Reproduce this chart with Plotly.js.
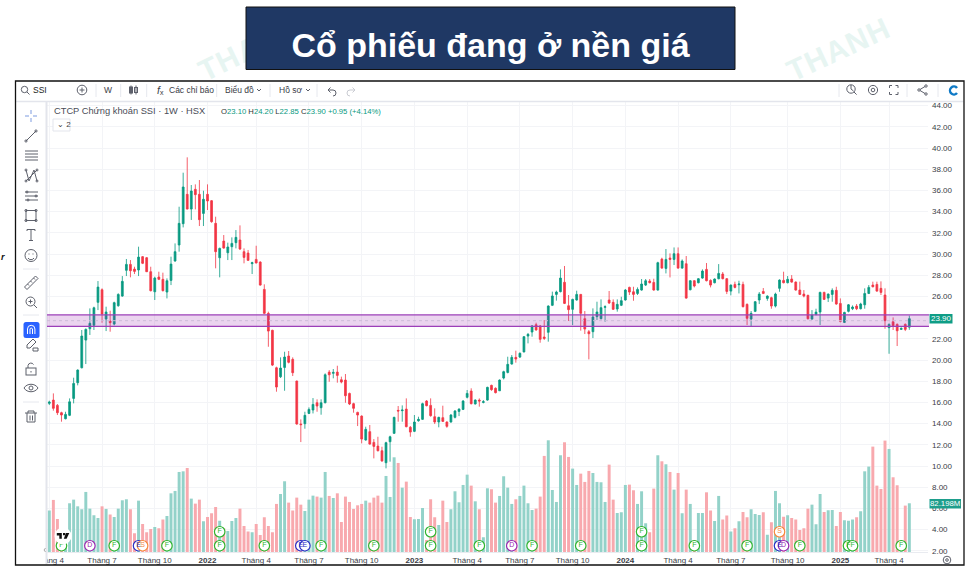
<!DOCTYPE html>
<html><head><meta charset="utf-8">
<script src="https://cdn.plot.ly/plotly-3.0.1.min.js"></script>
<style>
html,body{margin:0;padding:0;background:#fff;width:974px;height:580px;overflow:hidden}
#wm,#chart,#ov{position:absolute;left:0;top:0;width:974px;height:580px}
#ov{pointer-events:none}
#ov .i{fill:none;stroke:#5d606b;stroke-width:1}
</style></head><body>
<svg id="wm" width="974" height="580">
  <g font-family="Liberation Sans" font-weight="700" font-size="30" fill="#e7f5f2">
    <text transform="translate(793,82) rotate(-25)" letter-spacing="1">THANH</text>
    <text transform="translate(205,82) rotate(-26)" letter-spacing="1">THANH</text>
  </g>
</svg>
<div id="chart"></div>
<svg id="ov" width="974" height="580">
  <!-- top toolbar icons -->
  <g class="i">
    <circle cx="24.5" cy="89.5" r="3.2"/><path d="M27 92l2.5 2.5"/>
    <circle cx="82" cy="90" r="4.8"/><path d="M79.5 90h5M82 87.5v5"/>
    <path d="M131 85.5v9M136 85.5v9"/><rect x="129.5" y="87" width="3" height="6" fill="#5d606b"/><rect x="134.5" y="87.5" width="3" height="5"/>
    <path d="M257 89l2 2 2-2M306 89l2 2 2-2"/>
    <path d="M328 90h5a3 3 0 0 1 0 6M328 90l2.5-2.5M328 90l2.5 2.5"/>
    <path d="M355 90h-5a3 3 0 0 0 0 6M355 90l-2.5-2.5M355 90l-2.5 2.5" stroke="#c9cbd2"/>
    <circle cx="851" cy="89" r="4.2"/><path d="M854 92l2.6 2.6M851 85v4l2.5 2"/>
    <circle cx="873" cy="90" r="1.8"/><circle cx="873" cy="90" r="4.6"/>
    <path d="M890 88v-2.5h2.5M896 85.5h2.5v2.5M898.5 92v2.5H896M892.5 94.500H890V92" transform="translate(-0.500,0)"/>
    <circle cx="919" cy="90" r="1.2"/><circle cx="926" cy="86" r="1.2"/><circle cx="926" cy="94" r="1.2"/><path d="M920 89.500l5-3M920 90.500l5 3"/>
  </g>
  <path d="M958 87.200a5.200 5.200 0 1 0 0 6.600l-2-1.600a2.700 2.700 0 1 1 0-3.400z" fill="#0f7ac6"/>
  <!-- left toolbar icons -->
  <g class="i">
    <path d="M31 110v4M31 118v4M25 116h4M33 116h4" stroke="#7c9be0"/>
    <path d="M26 141l10-10"/><circle cx="26" cy="141" r="1.100"/><circle cx="36" cy="131" r="1.100"/>
    <path d="M25 151h13M25 154h13M25 157h13M25 160h13"/>
    <path d="M26 170l3 11 5-11 3 11M26 181l11-11"/><circle cx="26" cy="170" r="1"/><circle cx="37" cy="170" r="1"/><circle cx="26" cy="181" r="1"/><circle cx="37" cy="181" r="1"/>
    <path d="M25 192h13M25 196h13M25 200h13"/><circle cx="27" cy="192" r="1"/><circle cx="36" cy="196" r="1"/><circle cx="28" cy="200" r="1"/>
    <rect x="26" y="210.500" width="10" height="10"/><circle cx="26" cy="210.500" r="1.100"/><circle cx="36" cy="210.500" r="1.100"/><circle cx="26" cy="220.500" r="1.100"/><circle cx="36" cy="220.500" r="1.100"/>
    <path d="M27 231v-1.500h8v1.500M31 229.500v11M29 240.500h4"/>
    <circle cx="31" cy="255.500" r="6"/><path d="M28 258a3.500 3.500 0 0 0 6 0"/><path d="M29 253.500v1M33 253.500v1"/>
    <path d="M26 288l11-11 2.500 2.500-11 11zM29 285l1.500 1.500M32 282l1.500 1.500M35 279l1.500 1.500" transform="translate(-1.500,-1)"/>
    <circle cx="30.500" cy="301.500" r="4.500"/><path d="M34 305l3 3M28.500 301.500h4M30.500 299.500v4"/>
    <path d="M27 345l6-6 3 3-6 6h-3zM33 351h5v-3h-5z"/>
    <rect x="26" y="368" width="10" height="7"/><path d="M28 368v-2.500a3 3 0 0 1 5.500-1"/><path d="M31 371v1.500"/>
    <path d="M24 388c3-5 11-5 14 0c-3 5-11 5-14 0z"/><circle cx="31" cy="388" r="2"/>
    <path d="M25 413h12M28 413v-2h6v2M27 413v9h8v-9M30 415.500v5M32.500 415.500v5"/>
  </g>
  <rect x="23.500" y="322" width="16" height="16" rx="2.500" fill="#2962ff"/>
  <path d="M27.500 334v-5a3.700 3.700 0 0 1 7.400 0v5M30 334v-5a1.300 1.300 0 0 1 2.500 0v5" fill="none" stroke="#fff" stroke-width="1"/>
  <path d="M45.500 548l-1.500 2 1.500 2" fill="none" stroke="#aaa"/>
  <circle cx="947" cy="560" r="3.800" fill="none" stroke="#5d606b"/><circle cx="947" cy="560" r="1.300" fill="none" stroke="#5d606b"/>
  <!-- TradingView mark -->
  <circle cx="63" cy="536" r="8.500" fill="#fff"/>
  <path d="M56.800 533h5v5.800h-2.500v-3.300h-2.500zM63 533h2.300l-0.200 2.200h-2.100zM66 533h3.300l-2.700 5.800h-2.800z" fill="#111"/>
</svg>
<script>
const open_ = [15.91,16.22,15.72,15.03,14.46,14.78,16.38,17.86,19.27,21.88,
22.95,23.27,25.44,26.63,23.86,23.68,23.39,25.12,26.03,28.46,
29.02,28.58,28.49,29.75,29.65,28.33,26.44,27.83,27.61,26.41,
27.51,29.34,30.85,32.86,35.63,34.24,36.10,35.63,33.83,35.63,
35.03,32.89,29.65,31.22,30.12,30.69,31.07,31.32,30.22,30.09,
29.09,29.49,29.24,26.66,24.40,22.80,19.27,18.42,19.30,20.37,
20.06,18.02,13.96,13.99,14.96,15.28,15.97,15.50,15.97,18.86,
18.74,18.86,18.14,18.11,16.85,15.88,15.06,14.71,12.45,13.24,
12.23,11.88,11.44,10.31,12.29,13.08,15.25,15.22,15.37,13.65,
13.27,14.27,14.40,16.13,15.72,14.65,14.15,14.56,14.15,14.15,
14.59,15.15,15.34,16.48,17.07,15.85,16.22,16.00,16.22,17.61,
17.33,17.10,18.30,18.83,19.62,20.25,20.28,20.76,22.26,22.64,
23.33,23.21,22.17,22.61,25.16,26.19,26.45,27.33,25.12,24.78,
25.66,26.19,23.90,22.67,22.67,24.09,23.90,24.97,25.66,25.44,
24.81,25.16,25.66,26.85,26.44,26.28,26.60,27.07,27.45,27.32,
26.60,29.52,28.64,29.62,29.49,30.03,28.67,29.08,26.63,27.48,
27.29,27.73,28.55,27.51,27.29,27.67,28.11,27.67,26.50,27.13,
27.10,27.13,25.25,23.86,24.59,25.66,26.47,25.81,25.88,25.09,
26.76,27.51,27.29,27.64,27.35,26.60,26.22,26.10,23.86,24.30,
24.52,26.38,25.84,26.19,26.57,25.34,23.55,24.59,24.84,25.09,
24.84,25.21,26.28,27.07,27.13,26.76,26.13,23.05,23.61,23.36,
22.89,23.36,23.10];
const high = [16.16,16.85,15.85,15.12,15.12,16.38,18.33,19.12,22.83,22.98,
24.87,25.03,27.45,26.76,25.03,24.65,25.50,26.29,27.92,29.53,
29.43,28.80,30.69,29.81,29.71,28.80,27.86,28.33,28.24,27.70,
29.75,31.00,34.46,37.67,39.12,36.51,36.57,36.98,35.97,36.57,
35.09,33.52,30.60,31.79,31.07,31.57,32.26,32.70,30.53,30.38,
29.27,30.78,29.31,27.14,24.56,22.86,19.37,20.25,20.78,20.85,
20.25,18.05,14.40,15.12,15.53,16.41,16.29,16.29,18.74,19.05,
19.15,19.46,18.43,18.68,16.92,15.97,15.12,14.78,13.71,13.87,
12.54,12.76,11.82,12.29,12.86,14.65,15.66,15.72,16.38,13.77,
14.81,14.65,15.97,16.22,16.38,15.44,14.65,15.69,14.21,14.90,
15.28,15.44,16.22,17.17,17.33,16.29,16.38,16.22,17.48,17.67,
17.42,18.17,18.99,20.31,20.47,20.88,20.72,22.26,22.55,23.30,
23.52,23.30,23.77,25.16,26.45,26.54,28.55,28.87,26.13,25.78,
26.54,26.23,24.62,22.83,24.87,25.50,25.72,25.16,26.51,25.72,
25.72,25.97,26.70,26.92,26.91,26.85,27.64,27.64,27.64,27.67,
29.27,29.65,30.47,30.06,30.62,30.62,29.49,29.81,27.54,27.54,
27.73,28.55,29.15,27.61,27.70,29.05,28.30,27.73,27.13,27.39,
27.48,27.39,25.34,24.62,25.56,26.41,26.79,26.10,25.97,26.35,
27.61,28.33,27.92,28.01,27.42,27.39,26.60,26.16,24.71,24.84,
26.44,26.44,26.28,26.76,26.91,25.81,24.55,25.28,25.15,25.28,
25.40,26.76,27.07,27.39,27.39,27.42,26.76,23.45,24.02,23.45,
23.08,23.45,24.20];
const low = [15.75,15.22,14.81,14.18,14.40,14.71,15.91,17.61,19.21,19.62,
22.36,22.83,24.71,23.52,22.73,22.67,23.27,25.03,25.97,27.92,
27.80,28.11,27.92,29.05,28.30,26.47,25.66,27.54,26.47,25.81,
27.07,29.27,30.22,32.51,34.21,33.21,34.21,32.64,32.64,34.15,
32.95,28.65,27.80,30.50,29.43,29.43,30.53,30.38,29.12,29.34,
28.11,29.12,27.01,24.34,21.25,19.43,17.01,18.30,17.10,19.68,
18.49,13.90,12.26,13.52,14.90,14.96,15.12,14.84,15.91,17.95,
18.27,17.86,17.80,15.97,15.75,15.03,13.77,12.14,12.39,12.01,
10.72,11.38,10.41,9.78,10.41,13.02,14.18,14.18,13.65,12.76,
13.20,14.18,14.34,15.63,14.65,13.96,13.65,14.15,13.61,14.09,
14.49,14.71,15.28,16.38,15.81,15.81,15.60,15.91,16.16,17.10,
16.85,17.07,18.17,18.74,19.56,19.75,20.19,20.72,21.57,22.20,
22.77,21.63,21.89,21.73,25.09,25.60,26.38,25.28,23.68,23.30,
25.60,22.77,22.45,20.06,22.07,23.77,23.83,23.61,25.28,24.72,
24.56,25.09,25.60,26.13,25.59,26.13,26.54,26.98,27.23,26.54,
26.54,28.61,28.17,27.79,28.96,28.61,28.61,25.78,26.57,26.85,
27.23,27.67,27.42,26.85,27.23,27.61,27.61,26.22,26.10,26.76,
26.28,24.96,23.30,23.20,24.52,25.28,26.22,25.59,24.84,24.96,
26.44,27.23,27.23,27.29,26.54,26.13,25.91,23.83,23.80,24.21,
23.30,25.66,25.47,25.50,25.21,23.55,23.49,24.49,24.71,24.71,
24.77,24.84,26.22,26.85,26.44,26.13,22.95,20.59,22.83,21.32,
22.83,22.73,22.85];
const close_ = [16.03,15.44,15.03,14.81,14.87,16.06,17.79,19.05,22.26,22.89,
23.46,24.93,26.88,24.34,24.53,23.52,25.41,26.19,27.42,29.02,
28.42,28.36,29.71,29.12,28.33,26.54,27.73,27.61,26.54,27.48,
29.05,30.22,32.89,36.32,34.24,35.94,35.60,33.24,35.16,35.00,
33.05,30.22,30.53,30.56,30.66,31.00,31.57,30.47,29.68,29.40,
29.18,29.15,27.07,24.40,22.73,19.52,17.45,19.24,20.28,19.78,
18.80,13.96,13.90,14.78,15.34,15.81,15.66,15.97,18.61,18.61,
18.83,18.55,17.92,16.63,15.85,15.44,14.81,12.54,13.46,12.07,
11.85,11.44,10.47,12.20,12.76,14.59,15.19,15.28,13.71,13.20,
14.15,14.40,15.88,15.69,14.75,14.15,14.59,14.21,13.74,14.81,
15.19,15.37,16.13,16.85,15.88,16.22,16.13,16.07,17.42,17.20,
16.92,18.11,18.90,19.59,20.25,20.09,20.63,22.20,22.42,23.21,
22.83,21.95,22.04,25.09,26.04,26.41,27.73,25.34,24.75,25.72,
26.19,24.40,22.92,22.48,24.06,24.53,24.94,25.03,25.38,24.78,
25.25,25.60,26.60,26.41,26.19,26.66,27.17,27.48,27.29,26.60,
29.18,28.67,29.49,29.49,30.03,28.67,29.34,25.84,27.48,26.98,
27.67,28.39,27.48,27.07,27.64,28.17,27.67,26.47,27.07,26.85,
27.17,25.03,23.93,24.40,25.50,26.22,26.28,26.03,25.09,26.22,
27.54,27.29,27.61,27.35,26.60,26.19,26.03,23.89,24.24,24.52,
26.38,25.72,26.22,26.57,25.28,23.64,24.49,25.21,25.00,24.84,
25.28,26.28,26.85,26.91,26.50,26.38,23.71,23.36,23.23,22.76,
22.98,22.89,23.90];
const volumeM = [69.9,87.8,55.9,31.9,29.1,82.2,88.3,77.1,72.1,101.2,
73.2,62.0,57.6,77.1,72.7,63.2,59.3,73.2,87.2,88.9,
72.1,31.9,86.6,47.5,33.5,39.1,42.5,40.2,54.8,60.9,
98.9,102.9,134.7,135.8,141.4,90.0,81.6,88.3,52.0,59.3,
65.4,76.0,53.1,40.2,35.8,52.5,57.6,73.2,44.2,34.7,
33.5,47.5,29.1,58.7,44.2,33.5,81.1,97.8,119.1,83.3,
69.9,91.7,79.9,69.3,88.3,95.0,93.4,91.7,134.7,94.5,
91.1,98.9,50.9,93.4,84.4,72.7,78.8,81.1,86.6,83.3,
91.7,95.0,83.3,128.0,92.8,159.3,149.8,108.4,118.5,59.3,
55.3,55.9,74.3,20.7,88.9,58.7,45.8,86.6,50.9,72.1,
102.3,83.9,112.9,130.2,111.8,85.5,72.1,25.2,107.3,105.7,
83.3,94.5,127.5,108.4,81.1,88.9,94.5,111.8,82.2,71.0,
73.2,93.4,161.6,187.8,104.5,84.4,162.7,184.5,159.9,140.3,
112.9,131.9,118.0,136.4,133.0,118.0,117.4,84.4,147.0,88.3,
66.0,67.1,112.9,113.5,104.0,81.1,102.3,48.6,33.5,106.8,
162.7,152.6,147.6,134.7,105.1,133.0,65.4,105.1,81.1,20.7,
66.0,66.0,100.6,69.9,52.5,94.5,54.8,61.5,34.7,40.2,
52.0,67.6,58.7,72.1,64.3,62.6,67.1,29.6,50.3,102.9,
82.2,59.8,62.0,57.6,54.8,37.5,40.2,73.2,79.9,47.0,
97.8,67.6,70.4,71.0,44.2,67.6,53.7,53.1,54.8,58.7,
68.8,135.8,143.7,177.2,111.8,106.2,187.3,173.3,125.8,112.4,
20.7,78.3,82.2];

const tickIdx = [0,13,26,39,51,64,77,90,103,116,129,142,155,168,182,195,207];
const tickText = ['Tháng 4','Tháng 7','Tháng 10','<b>2022</b>','Tháng 4','Tháng 7','Tháng 10','<b>2023</b>','Tháng 4','Tháng 7','Tháng 10','<b>2024</b>','Tháng 4','Tháng 7','Tháng 10','<b>2025</b>','Tháng 4'];
const priceTicks = [2,4,6,8,10,12,14,16,18,20,22,26,28,30,32,34,36,38,40,42,44];

const eventIdx   = [3,10,16,22,23,29,42,42,53,62,63,67,80,94,94,106,114,119,131,146,146,159,172,180,180,181,185,197,198,210];
const eventLevel = [2.48,2.48,2.48,2.48,2.48,2.48,2.48,3.80,2.48,2.48,2.48,2.48,2.48,2.48,3.80,2.48,2.48,2.48,2.48,2.48,3.80,2.48,2.48,2.48,3.80,2.48,2.48,2.48,2.48,2.48];
const eventKind  = ['F','D','F','E','S','F','F','F','F','E','E','F','F','F','F','F','D','F','F','F','F','F','F','E','S','D','F','F','F','F'];

const zoneTop = 24.25, zoneBottom = 23.17, lastClose = 23.90, lastVolumeLabel = '82.198M';

const UP='#089981', DOWN='#F23645', VUP='#93d2c9', VDOWN='#f8a9ae';
const kindColor={F:'#2fb52f',D:'#9c27b0',S:'#f7893b',E:'#2a2fc4'};
const idx = open_.map((_,i)=>i);
const W=974,H=580, px=x=>x/W, py=y=>1-y/H;
const FONT='Liberation Sans', TXT='#3a3d46';

const traces=[
 {type:'bar',x:idx,y:volumeM,xaxis:'x',yaxis:'y',hoverinfo:'skip',
  marker:{color:idx.map(i=>close_[i]>=open_[i]?VUP:VDOWN),line:{width:0}}},
 {type:'candlestick',x:idx,open:open_,high:high,low:low,close:close_,xaxis:'x',yaxis:'y2',hoverinfo:'skip',
  whiskerwidth:0,
  increasing:{line:{color:UP,width:0.8},fillcolor:UP},
  decreasing:{line:{color:DOWN,width:0.8},fillcolor:DOWN}},
 {type:'scatter',mode:'markers+text',x:eventIdx,y:eventLevel,text:eventKind,xaxis:'x',yaxis:'y2',hoverinfo:'skip',
  textposition:'middle center',
  textfont:{family:FONT,size:7,color:eventKind.map(k=>kindColor[k])},
  marker:{size:10.5,color:'#fff',line:{width:1.2,color:eventKind.map(k=>kindColor[k])}}}
];

function box(x0,y0,x1,y1,o){return Object.assign({type:'rect',xref:'paper',yref:'paper',x0:px(x0),x1:px(x1),y0:py(y0),y1:py(y1),line:{width:0},layer:'above'},o||{});}
function ln(x0,y0,x1,y1,c,w,o){return Object.assign({type:'line',xref:'paper',yref:'paper',x0:px(x0),x1:px(x1),y0:py(y0),y1:py(y1),line:{color:c,width:w},layer:'above'},o||{});}
const SEP='#e6e8ee';
const shapes=[
 box(246,7,735,69.5,{fillcolor:'#1F3864',line:{color:'#111',width:1},layer:'below'}),
 box(15.5,81,964,565,{fillcolor:'#fff',layer:'below'}),
 box(16,81.5,47,564.5,{fillcolor:'#fff'}),
 box(16,81.5,963.5,101,{fillcolor:'#fff'}),
 ln(16,101.500,963.500,101.500,'#e3e5ec',1.500),
 ln(46.500,101.500,46.500,564.500,'#e3e5ec',2),
 ln(47,552.500,928,552.500,'#e9ebf0',1),
 ...[96,120.700,146.700,216.700,270,317,839,907,938].map(x=>ln(x,84,x,97,SEP,1)),
 ...[269,315,402].map(y=>ln(23,y,39,y,SEP,1)),
 {type:'rect',xref:'paper',yref:'y2',x0:px(47),x1:px(929),y0:zoneBottom,y1:zoneTop,fillcolor:'rgba(156,39,176,0.2)',line:{width:0},layer:'above'},
 {type:'line',xref:'paper',yref:'y2',x0:px(47),x1:px(929),y0:zoneTop,y1:zoneTop,line:{color:'#9c3fb8',width:1.3},layer:'above'},
 {type:'line',xref:'paper',yref:'y2',x0:px(47),x1:px(929),y0:zoneBottom,y1:zoneBottom,line:{color:'#9c3fb8',width:1.3},layer:'above'},
 {type:'line',xref:'paper',yref:'y2',x0:px(47),x1:px(929),y0:(zoneTop+zoneBottom)/2,y1:(zoneTop+zoneBottom)/2,line:{color:'#cdbcd8',width:1,dash:'dot'},layer:'above'},
 box(929.500,314,952.500,323.500,{fillcolor:'#0f9d86'}),
 box(929.500,499,961,508.500,{fillcolor:'#1e9e8c'}),
 box(53,119,70,131,{fillcolor:'#fff',line:{color:'#e3e5ec',width:1}}),
 box(15.500,81,964,565,{line:{color:'#111',width:1.300}})
];
function note(text,x,y,o){const f=(o&&o.font)||{};return Object.assign({text,xref:'paper',yref:'paper',x:px(x),y:py(y),xanchor:'left',yanchor:'middle',showarrow:false,borderpad:0,
  font:Object.assign({family:FONT,size:8.500,color:TXT},f)},o?{xanchor:o.xanchor||'left'}:{});}
const g=s=>`<span style="color:${UP}">${s}</span>`;
const annotations=[
 note('SSI',32,89.500,{font:{size:8.500,color:'#222'}}),
 note('W',108,90,{xanchor:'center',font:{size:8.500}}),
 note('<i>f</i>ₓ',156,90,{font:{size:10.500}}),
 note('Các chỉ báo',168,90,{font:{size:8.500}}),
 note('Biểu đồ',224,90,{font:{size:8.500}}),
 note('Hồ sơ',278,90,{font:{size:8.500}}),
 note('CTCP Chứng khoán SSI · 1W · HSX',53,111.500,{font:{size:9.300,color:'#4a4d57'}}),
 note('O'+g('23.10')+' H'+g('24.20')+' L'+g('22.85')+' C'+g('23.90')+' '+g('+0.95 (+4.14%)'),220,112,{font:{size:7.700,color:'#333'}}),
 note('⌄ 2',56,124.500,{font:{size:8,color:'#444'}}),
 note('23.90',941,318.800,{xanchor:'center',font:{size:8,color:'#fff'}}),
 note(lastVolumeLabel,945.200,503.800,{xanchor:'center',font:{size:7.800,color:'#fff'}}),
 note('<b><i>r</i></b>',0,257,{font:{size:9,color:'#111'}})
];
const layout={
 width:W,height:H,margin:{l:0,r:0,t:0,b:0,pad:0},
 paper_bgcolor:'rgba(0,0,0,0)',plot_bgcolor:'rgba(0,0,0,0)',showlegend:false,boxgap:0.36,bargap:0.27,
 title:{text:'<b>Cổ phiếu đang ở nền giá</b>',font:{family:FONT,size:34,color:'#fff'},xref:'paper',yref:'paper',x:490.500/W,y:py(45),xanchor:'center',yanchor:'middle'},
 xaxis:{domain:[px(47),px(928)],range:[-0.567,216.600],type:'linear',tickmode:'array',tickvals:tickIdx,ticktext:tickText,ticklabelstandoff:2,
  tickfont:{family:FONT,size:8,color:TXT},showgrid:true,gridcolor:'#f3f4f7',gridwidth:1,zeroline:false,showline:false,ticks:'',rangeslider:{visible:false},fixedrange:true},
 yaxis:{domain:[py(552.300),py(102)],range:[0,755],showgrid:false,showticklabels:false,zeroline:false,showline:false,ticks:'',fixedrange:true},
 yaxis2:{overlaying:'y',side:'right',anchor:'x',range:[1.860,44.340],tickmode:'array',tickvals:priceTicks,ticktext:priceTicks.map(v=>v.toFixed(2)),ticklabelstandoff:3,
  tickfont:{family:FONT,size:8,color:TXT},showgrid:true,gridcolor:'#f3f4f7',gridwidth:1,zeroline:false,showline:false,ticks:'',fixedrange:true},
 shapes,annotations
};
Plotly.newPlot('chart',traces,layout,{displayModeBar:false,staticPlot:true});
</script>
</body></html>
